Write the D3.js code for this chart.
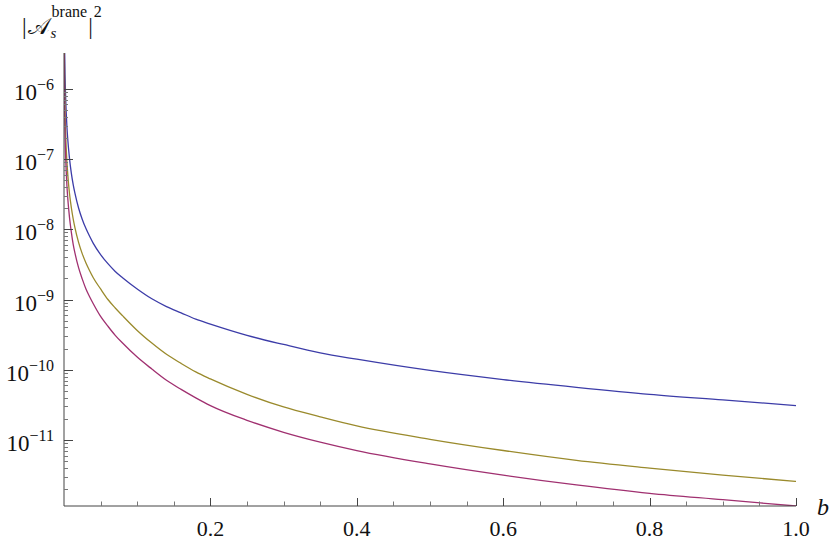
<!DOCTYPE html>
<html>
<head>
<meta charset="utf-8">
<script src="https://cdn.jsdelivr.net/npm/d3@7"></script>
<style>
  body { margin: 0; background: #fff; }
  svg { display: block; }
  text { font-family: "Liberation Serif", "Times New Roman", serif; }
</style>
</head>
<body>
<div id="chart"></div>
<script>
// b values sampled along the curves (same grid for all three)
const bValues = [0.0003, 0.0005, 0.001, 0.0015, 0.002, 0.003, 0.004, 0.005, 0.0075, 0.01, 0.0125,
                 0.015, 0.02, 0.025, 0.03, 0.035, 0.04, 0.05, 0.06, 0.07, 0.08, 0.1, 0.12, 0.14,
                 0.16, 0.18, 0.2, 0.25, 0.3, 0.35, 0.4, 0.5, 0.6, 0.7, 0.8, 0.9, 1.0];

// log10 |A_s^brane|^2 (one value per b above)
const blueLog = [-4.68, -5.04, -5.54, -5.83, -6.04, -6.33, -6.54, -6.70, -6.99, -7.20, -7.36,
                 -7.49, -7.70, -7.86, -7.99, -8.10, -8.20, -8.36, -8.49, -8.60, -8.69, -8.85, -8.99, -9.10,
                 -9.19, -9.28, -9.35, -9.51, -9.64, -9.76, -9.85, -10.01, -10.14, -10.25, -10.35, -10.43, -10.51];
const goldLog = [-5.20, -5.56, -6.05, -6.34, -6.55, -6.84, -7.04, -7.20, -7.49, -7.69, -7.85,
                 -7.98, -8.19, -8.35, -8.48, -8.59, -8.69, -8.85, -9.00, -9.12, -9.23, -9.44, -9.62, -9.78,
                 -9.91, -10.03, -10.13, -10.35, -10.53, -10.67, -10.80, -10.99, -11.15, -11.29, -11.40, -11.50, -11.59];
const magentaLog = [-5.50, -5.87, -6.37, -6.67, -6.88, -7.17, -7.38, -7.54, -7.83, -8.04, -8.21,
                    -8.34, -8.55, -8.71, -8.85, -8.96, -9.06, -9.24, -9.38, -9.51, -9.62, -9.82, -9.99, -10.15,
                    -10.28, -10.40, -10.51, -10.72, -10.89, -11.03, -11.15, -11.34, -11.50, -11.64, -11.76, -11.85, -11.94];

const seriesColors = ["#3c3ca8", "#9a8a2c", "#a03070"];
const xTickLabels = ["0.2", "0.4", "0.6", "0.8", "1.0"];
const yExponents = [-6, -7, -8, -9, -10, -11];

const width = 830;
const height = 543;
const margin = { top: 53, right: 34, bottom: 37, left: 64 };

const svg = d3.select("#chart")
    .append("svg")
    .attr("width", width)
    .attr("height", height);

const x = d3.scaleLinear()
    .domain([0, 1])
    .range([margin.left, width - margin.right]);

const y = d3.scaleLog()
    .domain([Math.pow(10, -11.94), Math.pow(10, -5.49)])
    .range([height - margin.bottom, margin.top]);

svg.append("clipPath")
    .attr("id", "plot-clip")
    .append("rect")
    .attr("x", margin.left)
    .attr("y", margin.top)
    .attr("width", width - margin.left - margin.right + 1)
    .attr("height", height - margin.top - margin.bottom);

// curves
const series = [blueLog, goldLog, magentaLog];
const line = d3.line()
    .x(d => x(d[0]))
    .y(d => y(Math.pow(10, d[1])))
    .curve(d3.curveMonotoneX);

series.forEach((vals, i) => {
    svg.append("path")
        .datum(bValues.map((b, j) => [b, vals[j]]))
        .attr("clip-path", "url(#plot-clip)")
        .attr("fill", "none")
        .attr("stroke", seriesColors[i])
        .attr("stroke-width", 1.3)
        .attr("d", line);
});

// axes drawn by hand, Mathematica style (ticks point inward)
const axisColor = "#444";
const x0 = margin.left;
const yBottom = height - margin.bottom;

svg.append("line")
    .attr("x1", x0).attr("x2", width - margin.right)
    .attr("y1", yBottom).attr("y2", yBottom)
    .attr("stroke", axisColor).attr("stroke-width", 1);

svg.append("line")
    .attr("x1", x0).attr("x2", x0)
    .attr("y1", margin.top).attr("y2", yBottom)
    .attr("stroke", axisColor).attr("stroke-width", 1);

// x ticks: majors every 0.2, minors every 0.05
const xMinor = d3.range(1, 21).map(i => i * 0.05);
svg.selectAll("line.xtick")
    .data(xMinor)
    .enter()
    .append("line")
    .attr("class", "xtick")
    .attr("x1", d => Math.round(x(d)) + 0.5)
    .attr("x2", d => Math.round(x(d)) + 0.5)
    .attr("y1", yBottom)
    .attr("y2", (d, i) => (i + 1) % 4 === 0 ? yBottom - 8 : yBottom - 4.5)
    .attr("stroke", (d, i) => (i + 1) % 4 === 0 ? axisColor : "#777")
    .attr("stroke-width", 1);

svg.selectAll("text.xlabel")
    .data(xTickLabels)
    .enter()
    .append("text")
    .attr("class", "xlabel")
    .attr("x", d => x(+d))
    .attr("y", yBottom + 30)
    .attr("text-anchor", "middle")
    .attr("font-size", "22px")
    .attr("fill", "#111")
    .text(d => d);

svg.append("text")
    .attr("x", 817)
    .attr("y", 515)
    .attr("font-style", "italic")
    .attr("font-size", "24px")
    .attr("fill", "#111")
    .text("b");

// y ticks: majors at 10^n, minors at k*10^n (only below 10^-6)
function isMajor(v) {
    const e = Math.log10(v);
    return Math.abs(e - Math.round(e)) < 1e-6;
}

const yTicks = y.ticks().filter(v => v <= 1.0001e-6);
svg.selectAll("line.ytick")
    .data(yTicks)
    .enter()
    .append("line")
    .attr("class", "ytick")
    .attr("x1", x0)
    .attr("x2", d => isMajor(d) ? x0 + 9 : x0 + 4)
    .attr("y1", d => Math.round(y(d)) + 0.5)
    .attr("y2", d => Math.round(y(d)) + 0.5)
    .attr("stroke", d => isMajor(d) ? axisColor : "#777")
    .attr("stroke-width", 1);

const yLabels = svg.selectAll("text.ylabel")
    .data(yExponents)
    .enter()
    .append("text")
    .attr("class", "ylabel")
    .attr("x", 54)
    .attr("y", d => y(Math.pow(10, d)) + 11)
    .attr("text-anchor", "end")
    .attr("fill", "#111");

yLabels.append("tspan")
    .attr("font-size", "23px")
    .text("10");
yLabels.append("tspan")
    .attr("font-size", "16px")
    .attr("dy", -10)
    .text(d => "\u2212" + Math.abs(d));

// axis title, top left: |A_s^brane|^2, pieces placed one after another
const title = svg.append("g").attr("fill", "#111");

const bar1 = title.append("text").attr("x", 22).attr("y", 34).attr("font-size", "23px").text("|");
const scriptA = title.append("text").attr("y", 34).attr("font-size", "23px")
    .style("font-family", "'DejaVu Serif', serif").text("\u{1D49C}");
scriptA.attr("x", 22 + bar1.node().getComputedTextLength() + 1);
const aEnd = +scriptA.attr("x") + scriptA.node().getComputedTextLength();

const sub = title.append("text").attr("x", aEnd + 1).attr("y", 38).attr("font-size", "15px")
    .attr("font-style", "italic").text("s");
const sup = title.append("text").attr("x", aEnd + 2).attr("y", 17).attr("font-size", "16px").text("brane");
const supEnd = +sup.attr("x") + sup.node().getComputedTextLength();

const bar2 = title.append("text").attr("x", supEnd + 1).attr("y", 34).attr("font-size", "23px").text("|");
title.append("text")
    .attr("x", supEnd + 1 + bar2.node().getComputedTextLength() + 1)
    .attr("y", 17).attr("font-size", "16px").text("2");
</script>
</body>
</html>
